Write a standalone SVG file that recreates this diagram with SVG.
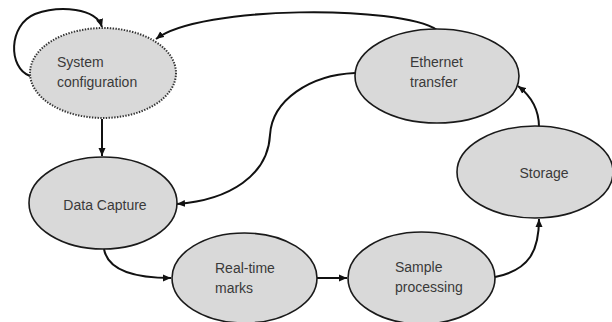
<svg xmlns="http://www.w3.org/2000/svg" width="612" height="322" viewBox="0 0 612 322">
  <style>
    .node { fill: #d9d9d9; stroke: #1a1a1a; stroke-width: 1.6; }
    .dotted { stroke: #333; stroke-width: 2; stroke-dasharray: 1.4 1.4; }
    .label { font-family: "Liberation Sans", Arial, sans-serif; font-size: 14px; fill: #3a3a3a; }
    .edge { fill: none; stroke: #111; stroke-width: 2; marker-end: url(#arrow); }
  </style>
  <defs>
    <marker id="arrow" markerUnits="userSpaceOnUse" markerWidth="9" markerHeight="8" refX="8" refY="4" orient="auto">
      <path d="M0,0.5 L8,4 L0,7.5 Z" fill="#111"/>
    </marker>
  </defs>
  <rect width="612" height="322" fill="#ffffff"/>

  <g id="connectors">
    <!-- self loop on System configuration -->
    <path class="edge" d="M30,76 C8,68 8,25 35,14 C60,5 96,8 102,27"/>
    <!-- System configuration to Data Capture -->
    <path class="edge" d="M102,119 L102,156"/>
    <!-- Data Capture to Real-time marks -->
    <path class="edge" d="M104,249 C108,272 140,278 171,278"/>
    <!-- Real-time marks to Sample processing -->
    <path class="edge" d="M317,278 L347,278"/>
    <!-- Sample processing to Storage -->
    <path class="edge" d="M495,277 C530,270 539,250 539,219"/>
    <!-- Storage to Ethernet transfer -->
    <path class="edge" d="M539,127 C539,108 531,96 518,86"/>
    <!-- Ethernet transfer to System configuration -->
    <path class="edge" d="M437,30 C400,5 200,5 156,39"/>
    <!-- Ethernet transfer to Data Capture -->
    <path class="edge" d="M355,73 C310,75 272,100 270,135 C268,175 230,200 177,204"/>
  </g>

  <g id="system-configuration">
    <ellipse class="node dotted" cx="103" cy="73" rx="73" ry="45"/>
    <text class="label" x="57" y="67">System</text>
    <text class="label" x="57" y="87">configuration</text>
  </g>

  <g id="data-capture">
    <ellipse class="node" cx="103" cy="203" rx="74" ry="46"/>
    <text class="label" x="105" y="210" text-anchor="middle">Data Capture</text>
  </g>

  <g id="real-time-marks">
    <ellipse class="node" cx="244.5" cy="278" rx="72.5" ry="45"/>
    <text class="label" x="215" y="273">Real-time</text>
    <text class="label" x="215" y="293">marks</text>
  </g>

  <g id="sample-processing">
    <ellipse class="node" cx="421.5" cy="278" rx="73.5" ry="46"/>
    <text class="label" x="395" y="272">Sample</text>
    <text class="label" x="395" y="292">processing</text>
  </g>

  <g id="storage">
    <ellipse class="node" cx="535" cy="172" rx="78" ry="46"/>
    <text class="label" x="544" y="178" text-anchor="middle">Storage</text>
  </g>

  <g id="ethernet-transfer">
    <ellipse class="node" cx="437" cy="76" rx="82" ry="47"/>
    <text class="label" x="410" y="67">Ethernet</text>
    <text class="label" x="410" y="87">transfer</text>
  </g>
</svg>
